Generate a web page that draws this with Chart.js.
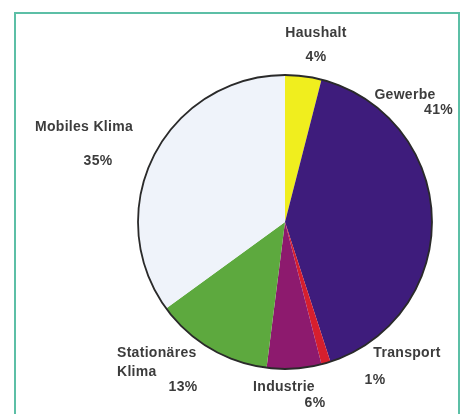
<!DOCTYPE html>
<html lang="de">
<head>
    <meta charset="UTF-8">
    <title>Anteile Kältemittel</title>
    <style>
        body {
            margin: 0;
            background: #fff;
            font-family: "Liberation Sans", Arial, sans-serif;
        }
        .wrap {
            position: relative;
            width: 466px;
            height: 414px;
            overflow: hidden;
        }
        .frame {
            position: absolute;
            left: 14px;
            top: 12px;
            width: 442px;
            height: 420px;
            border: 2px solid #5cbfa6;
        }
        canvas {
            position: absolute;
            left: 0;
            top: 0;
        }
    </style>
    <script src="https://cdn.jsdelivr.net/npm/chart.js"></script>
</head>
<body>
    <div class="wrap">
        <div class="frame"></div>
        <canvas id="pie" width="466" height="414"></canvas>
    </div>
    <script>
        const sectors = ['Haushalt', 'Gewerbe', 'Transport', 'Industrie', 'Stationäres Klima', 'Mobiles Klima'];
        const shares = [4, 41, 1, 6, 13, 35];
        const colors = ['#f0ee1e', '#3e1c7c', '#d61f2e', '#8d1a6e', '#5da93e', '#eff3fa'];

        // label lines and their placement (offsets from pie centre)
        const labelLines = [
            [['Haushalt', 31, -189, 'center'], ['4%', 31, -165, 'center']],
            [['Gewerbe', 120, -127, 'center'], ['41%', 168, -112, 'right']],
            [['Transport', 122, 131, 'center'], ['1%', 90, 158, 'center']],
            [['Industrie', -1, 165, 'center'], ['6%', 30, 181, 'center']],
            [['Stationäres', -168, 131, 'left'], ['Klima', -168, 150, 'left'], ['13%', -102, 165, 'center']],
            [['Mobiles Klima', -201, -95, 'center'], ['35%', -187, -61, 'center']]
        ];

        const outlineAndLabels = {
            id: 'outlineAndLabels',
            afterDatasetsDraw(chart) {
                const ctx = chart.ctx;
                const arc = chart.getDatasetMeta(0).data[0];
                const cx = arc.x, cy = arc.y, r = arc.outerRadius;
                ctx.save();
                ctx.beginPath();
                ctx.arc(cx, cy, r, 0, Math.PI * 2);
                ctx.lineWidth = 1.8;
                ctx.strokeStyle = '#2a2a2a';
                ctx.stroke();

                ctx.fillStyle = '#3c3c3c';
                ctx.font = 'bold 14px "Liberation Sans", Arial, sans-serif';
                ctx.letterSpacing = '0.3px';
                ctx.textBaseline = 'middle';
                labelLines.forEach(lines => {
                    lines.forEach(([txt, dx, dy, align]) => {
                        ctx.textAlign = align;
                        ctx.fillText(txt, cx + dx, cy + dy);
                    });
                });
                ctx.restore();
            }
        };

        new Chart(document.getElementById('pie'), {
            type: 'pie',
            data: {
                labels: sectors,
                datasets: [{
                    data: shares,
                    backgroundColor: colors,
                    borderWidth: 0
                }]
            },
            options: {
                responsive: false,
                animation: false,
                layout: {
                    padding: { left: 137, right: 33, top: 75, bottom: 45 }
                },
                plugins: {
                    legend: { display: false },
                    tooltip: { enabled: false }
                }
            },
            plugins: [outlineAndLabels]
        });
    </script>
</body>
</html>
